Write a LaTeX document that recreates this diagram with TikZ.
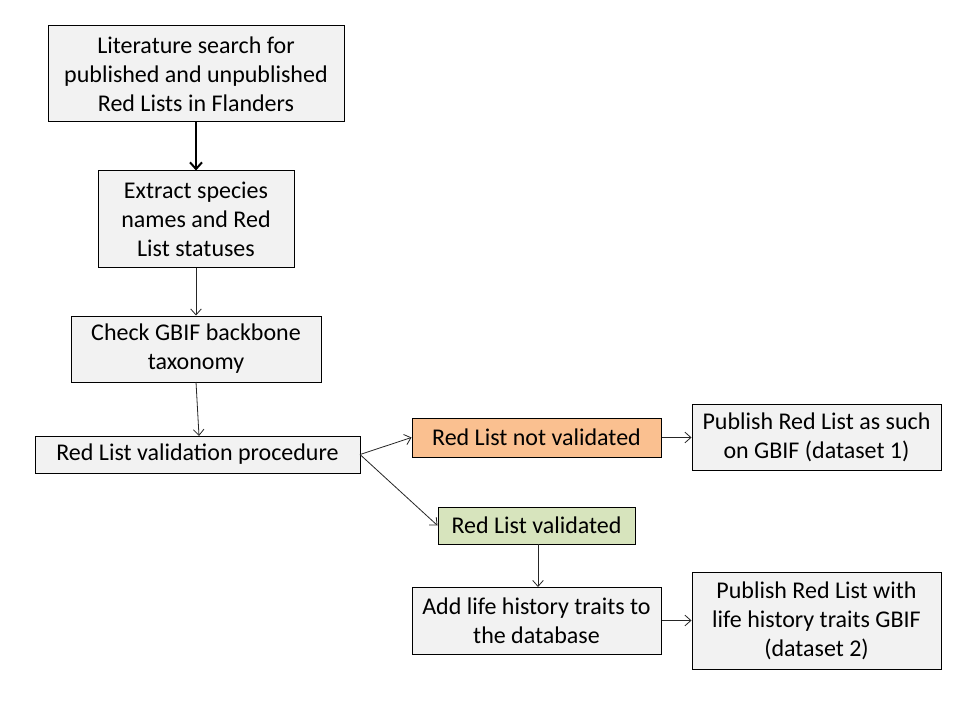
\documentclass[tikz,border=0pt]{standalone}
\usepackage{fontspec}
\setmainfont{Carlito}
\usetikzlibrary{arrows.meta}
\definecolor{boxgray}{HTML}{F2F2F2}
\definecolor{boxorange}{HTML}{FAC090}
\definecolor{boxgreen}{HTML}{D7E4BD}
\tikzset{
  box/.style={draw=black, line width=0.75pt, fill=boxgray, inner sep=0pt, align=center,
    font=\fontsize{18}{21.8}\selectfont, text=black},
  conn/.style={draw=black!85, line width=0.6pt, -{Straight Barb[length=4.5pt,width=8pt]}},
  thickconn/.style={draw=black, line width=1.5pt, -{Straight Barb[length=5pt,width=9pt]}}
}
\begin{document}
\begin{tikzpicture}[x=0.75pt,y=-0.75pt]
\useasboundingbox[fill=white] (0,0) rectangle (960,720);
\node[box, minimum width=222pt, minimum height=72pt] (lit) at (196,74)
  {Literature search for\\published and unpublished\\Red Lists in Flanders};
\node[box, minimum width=147pt, minimum height=72.75pt] (ext) at (196,219.5)
  {Extract species\\names and Red\\List statuses};
\node[box, minimum width=187.5pt, minimum height=49.5pt] (chk) at (196,349)
  {Check GBIF backbone\\taxonomy};
\node[box, minimum width=243.75pt, minimum height=27.75pt] (val) at (197.5,454.5)
  {Red List validation procedure};
\node[box, fill=boxorange, minimum width=186.75pt, minimum height=29.25pt] (nval) at (536.5,437.5)
  {Red List not validated};
\node[box, minimum width=186.75pt, minimum height=49.5pt] (pub1) at (816.5,437)
  {Publish Red List as such\\on GBIF (dataset 1)};
\node[box, fill=boxgreen, minimum width=147.75pt, minimum height=27.75pt] (yval) at (536.5,525.5)
  {Red List validated};
\node[box, minimum width=186.75pt, minimum height=50.25pt] (add) at (536.5,620.5)
  {Add life history traits to\\the database};
\node[box, minimum width=186.75pt, minimum height=72.75pt] (pub2) at (816.5,620.5)
  {Publish Red List with\\life history traits GBIF\\(dataset 2)};
\coordinate (valr) at (360,454.5);
\coordinate (chkb) at (196,382);
\coordinate (valt) at (199,436);
\coordinate (yvalb) at (538,544);
\coordinate (addt) at (538,587);
\draw[thickconn] (lit.south) -- (ext.north);
\draw[conn] (ext.south) -- (chk.north);
\draw[conn] (chkb) -- (valt);
\draw[conn] (valr) -- (nval.west);
\draw[conn] (valr) -- (yval.west);
\draw[conn] (nval.east) -- (pub1.west |- nval.east);
\draw[conn] (yvalb) -- (addt);
\draw[conn] (add.east) -- (pub2.west);
\end{tikzpicture}
\end{document}
